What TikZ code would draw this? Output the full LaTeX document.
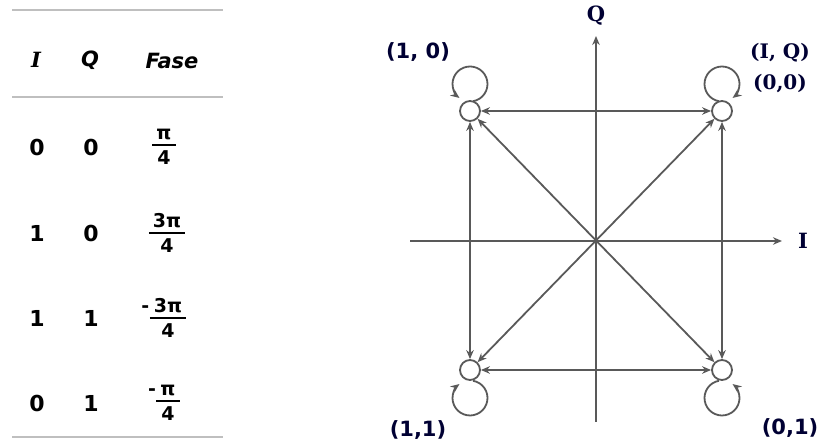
\documentclass[tikz,border=0pt]{standalone}
\usepackage{fontspec}
\setmainfont{DejaVu Sans}
\newfontfamily\vsans{DejaVu Sans}
\newfontfamily\vserif{DejaVu Serif}
\usetikzlibrary{arrows.meta}
\newcommand\ffr{\vsans\bfseries\fontsize{19}{21}\selectfont}
\newcommand\numstrut{\vrule width0pt depth2.5pt height0pt\relax}
\newcommand\denstrut{\vrule width0pt height16.5pt depth0pt\relax}
\newcommand\myfrac[2]{${\hbox{\ffr\numstrut\kern4pt #1\kern4pt}\above1.8pt\hbox{\ffr\denstrut #2}}$}
\newcommand\mymfrac[2]{${\hbox{\ffr\numstrut\llap{-\kern0.5pt}\kern4pt #1\kern4pt}\above1.8pt\hbox{\ffr\denstrut #2}}$}
\tikzset{
 rulestyle/.style={draw=gray!50, line width=1.6pt},
 cell/.style={font=\vsans\bfseries\fontsize{22}{24}\selectfont, inner sep=0pt},
 head/.style={font=\vsans\bfseries\itshape\fontsize{21}{24}\selectfont, inner sep=0pt},
 headser/.style={font=\vserif\bfseries\itshape\fontsize{21}{24}\selectfont, inner sep=0pt},
 frc/.style={inner sep=0pt, font=\fontsize{17}{19}\selectfont},
 ln/.style={draw=black!65, line width=1.8pt},
 tipend/.style={-{Stealth[length=9pt,width=7.5pt]}},
 dbl/.style={{Stealth[length=9pt,width=7.5pt]}-{Stealth[length=9pt,width=7.5pt]}},
 st/.style={circle, draw=black!65, line width=1.8pt, fill=white, minimum size=20pt, inner sep=0pt},
 lbs/.style={font=\vsans\bfseries\fontsize{21}{24}\selectfont, text=black!80!blue, inner sep=0pt},
 lbr/.style={font=\vserif\bfseries\fontsize{20}{23}\selectfont, text=black!80!blue, inner sep=0pt},
 axl/.style={font=\vserif\bfseries\fontsize{21}{23}\selectfont, text=black!80!blue, inner sep=0pt},
}
\begin{document}
\begin{tikzpicture}[x=1pt,y=1pt]
\useasboundingbox (0,0) rectangle (822,444);
% ---------- table ----------
\coordinate (r1a) at (12,434); \coordinate (r1b) at (223,434);
\coordinate (r2a) at (12,347); \coordinate (r2b) at (223,347);
\coordinate (r3a) at (12,7);   \coordinate (r3b) at (223,7);
\draw[rulestyle] (r1a) -- (r1b);
\draw[rulestyle] (r2a) -- (r2b);
\draw[rulestyle] (r3a) -- (r3b);
\node[headser] (hI) at (36,384) {I};
\node[head] (hQ) at (90,384) {Q};
\node[head] (hF) at (172,383) {Fase};
\node[cell] (a1) at (37,297) {0}; \node[cell] (b1) at (91,297) {0};
\node[frc] (c1) at (164,297) {\myfrac{π}{4}};
\node[cell] (a2) at (37,211) {1}; \node[cell] (b2) at (91,211) {0};
\node[frc] (c2) at (167,211) {\myfrac{3π}{4}};
\node[cell] (a3) at (37,126) {1}; \node[cell] (b3) at (91,126) {1};
\node[frc] (c3) at (168,126) {\mymfrac{3π}{4}};
\node[frc] (c4) at (168,41) {\mymfrac{π}{4}};
\node[cell] (a4) at (37,41) {0}; \node[cell] (b4) at (91,41) {1};
% ---------- constellation ----------
\coordinate (O) at (596,203);
\coordinate (xl) at (410,203); \coordinate (xr) at (782,203);
\coordinate (yb) at (596,22);  \coordinate (yt) at (596,408);
\draw[ln,tipend] (xl) -- (xr);
\draw[ln,tipend] (yb) -- (yt);
\node[axl] (Ilab) at (803,203) {I};
\node[axl] (Qlab) at (596,428) {Q};
\node[st] (TL) at (470,333) {};
\node[st] (TR) at (722,333) {};
\node[st] (BL) at (470,74) {};
\node[st] (BR) at (722,74) {};
\draw[ln,dbl] (TL) -- (TR);
\draw[ln,dbl] (BL) -- (BR);
\draw[ln,dbl] (TL) -- (BL);
\draw[ln,dbl] (TR) -- (BR);
\draw[ln,dbl] (TL) -- (BR);
\draw[ln,dbl] (TR) -- (BL);
% loops
\coordinate (cTL) at (470,360); \coordinate (cTR) at (722,360);
\coordinate (cBL) at (470,46);  \coordinate (cBR) at (722,46);
\draw[ln,tipend] ([shift={(-80:17.5)}]cTL) arc[start angle=-80, end angle=233, radius=17.5];
\draw[ln,tipend] ([shift={(260:17.5)}]cTR) arc[start angle=260, end angle=-53, radius=17.5];
\draw[ln,tipend] ([shift={(80:17.5)}]cBL) arc[start angle=80, end angle=-233, radius=17.5];
\draw[ln,tipend] ([shift={(100:17.5)}]cBR) arc[start angle=100, end angle=413, radius=17.5];
% labels
\node[lbs] (l10) at (418,392) {(1, 0)};
\node[lbr] (lIQ) at (780,391) {(I, Q)};
\node[lbr] (l00) at (780,360) {(0,0)};
\node[lbs] (l11) at (418,14) {(1,1)};
\node[lbs] (l01) at (790,16) {(0,1)};
\end{tikzpicture}
\end{document}
